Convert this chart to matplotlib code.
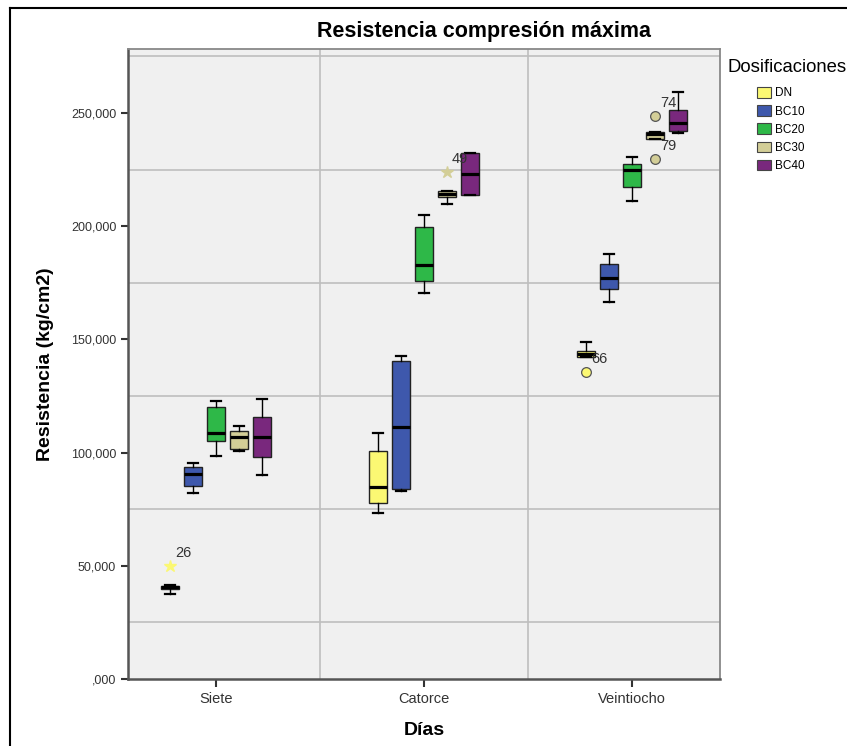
import matplotlib.pyplot as plt
from matplotlib.patches import Patch
from matplotlib.lines import Line2D
from matplotlib.ticker import FuncFormatter, MultipleLocator

plt.rcParams['font.family'] = ['Liberation Sans', 'DejaVu Sans']

days = ["Siete", "Catorce", "Veintiocho"]
series = ["DN", "BC10", "BC20", "BC30", "BC40"]
colors = ["#FBF873", "#3E58AC", "#2EB848", "#D3CE97", "#79287D"]

# box stats per series (rows) and day (columns), kg/cm2
whislo = [[37.5, 73.3, 142.1],
          [82.2, 83.0, 166.5],
          [98.5, 170.5, 211.1],
          [100.7, 209.8, 238.5],
          [90.1, 213.8, 241.2]]
q1 = [[39.8, 77.7, 142.2],
      [85.2, 83.9, 172.3],
      [105.1, 175.8, 217.3],
      [101.6, 212.9, 238.5],
      [98.1, 213.8, 242.0]]
med = [[40.6, 84.8, 143.6],
       [90.5, 111.3, 177.1],
       [108.7, 182.9, 224.8],
       [106.9, 214.1, 240.6],
       [106.9, 223.0, 245.6]]
q3 = [[41.1, 100.7, 144.9],
      [93.6, 140.5, 183.3],
      [120.1, 199.6, 227.5],
      [109.5, 215.5, 241.6],
      [115.7, 232.3, 251.3]]
whishi = [[41.5, 108.7, 148.9],
          [95.4, 142.7, 187.7],
          [122.8, 205.0, 230.6],
          [111.7, 215.6, 241.7],
          [123.7, 232.3, 259.3]]

# outliers: series index, day index, value, kind, case label
out_series = [0, 3, 0, 3, 3]
out_day = [0, 1, 2, 2, 2]
out_value = [50.0, 223.9, 135.6, 248.7, 229.7]
out_kind = ["*", "*", "o", "o", "o"]
out_label = ["26", "49", "66", "74", "79"]

step = 0.1106
width = 0.091

fig = plt.figure(figsize=(8.47, 7.46), dpi=100)
ax = fig.add_axes([128 / 847, 1 - 679 / 746, 592 / 847, 630 / 746])
ax.set_facecolor("#F0F0F0")

for i, name in enumerate(series):
    stats = []
    for d in range(len(days)):
        stats.append({"whislo": whislo[i][d], "q1": q1[i][d], "med": med[i][d],
                      "q3": q3[i][d], "whishi": whishi[i][d], "fliers": []})
    pos = [d + (i - 2) * step for d in range(len(days))]
    ax.bxp(stats, positions=pos, widths=width, patch_artist=True,
           showfliers=False, manage_ticks=False,
           boxprops=dict(facecolor=colors[i], edgecolor="#222222", linewidth=1.0),
           medianprops=dict(color="black", linewidth=2.3, solid_capstyle="butt"),
           whiskerprops=dict(color="black", linewidth=1.0),
           capprops=dict(color="black", linewidth=1.6), capwidths=width * 0.55)

for s, d, v, k, lab in zip(out_series, out_day, out_value, out_kind, out_label):
    x = d + (s - 2) * step
    if k == "*":
        ax.plot(x, v, marker="*", ms=9, color=colors[s], mec=colors[s], ls="none", zorder=4)
    else:
        ax.plot(x, v, marker="o", ms=7, color=colors[s], mec="#555555", mew=0.9, ls="none", zorder=4)
    ax.annotate(lab, (x, v), xytext=(5, 6), textcoords="offset pixels",
                fontsize=10.5, color="#333333", va="bottom", ha="left")

ax.set_xlim(-0.423, 2.423)
ax.set_ylim(0, 278.3)
ax.set_xticks(range(len(days)))
ax.set_xticklabels(days)
ax.yaxis.set_major_locator(MultipleLocator(50))


def fmt(v, pos):
    s = f"{v:.3f}".replace(".", ",")
    if s.startswith("0,"):
        s = s[1:]
    return s


ax.yaxis.set_major_formatter(FuncFormatter(fmt))
ax.tick_params(axis="both", colors="#333333", length=5, width=1.5)
ax.tick_params(axis="y", labelsize=9)
ax.tick_params(axis="x", labelsize=10.5, length=6)

for y in [25, 75, 125, 175, 225, 275]:
    ax.axhline(y, color="#BEBEBE", lw=1.2, zorder=0)
for x in [0.5, 1.5]:
    ax.axvline(x, color="#BEBEBE", lw=1.2, zorder=0)

for side in ["left", "bottom"]:
    ax.spines[side].set_color("#555555")
    ax.spines[side].set_linewidth(1.8)
for side in ["top", "right"]:
    ax.spines[side].set_color("#888888")
    ax.spines[side].set_linewidth(1.3)

ax.set_ylabel("Resistencia (kg/cm2)", fontsize=14, fontweight="bold")
ax.yaxis.set_label_coords(-0.125, 0.5)
ax.set_xlabel("Días", fontsize=14, fontweight="bold")
ax.xaxis.set_label_coords(0.5, -0.068)

fig.text(484 / 847, 1 - 32 / 746, "Resistencia compresión máxima", fontsize=15.5,
         fontweight="bold", ha="center", va="center")

fig.text(727 / 847, 1 - 68 / 746, "Dosificaciones", fontsize=13.3, ha="left", va="center")
handles = [Patch(facecolor=c, edgecolor="#444444", linewidth=0.8) for c in colors]
fig.legend(handles, series, loc="upper left", bbox_to_anchor=(757 / 847, 1 - 87 / 746),
           frameon=False, fontsize=8.5, handlelength=1.2, handleheight=1.0,
           handletextpad=0.3, labelspacing=0.5, borderpad=0, borderaxespad=0)

# outer frame of the screenshot
fig.add_artist(Line2D([10 / 847, 10 / 847], [0, 1 - 8 / 746], color="black", lw=1.5))
fig.add_artist(Line2D([10 / 847, 1], [1 - 8 / 746, 1 - 8 / 746], color="black", lw=1.5))

fig.savefig("out.png", dpi=100)
